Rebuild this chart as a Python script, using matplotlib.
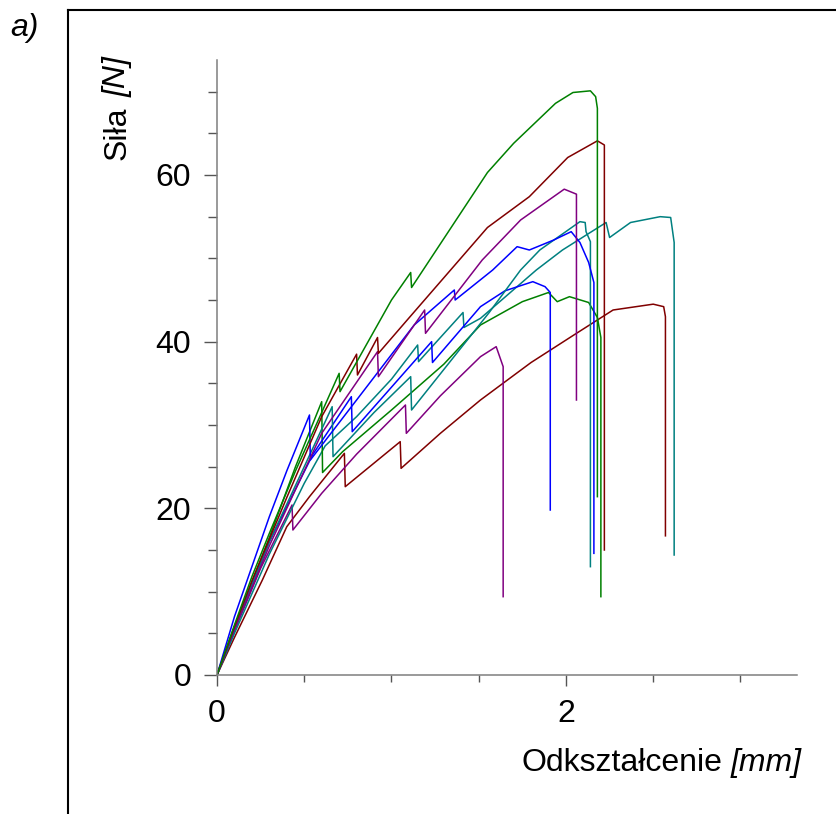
import matplotlib
matplotlib.use("Agg")
import matplotlib.pyplot as plt
from matplotlib.lines import Line2D
from matplotlib.ticker import MultipleLocator

plt.rcParams['font.family'] = ['Liberation Sans', 'DejaVu Sans']

# displacement [mm] / force [N], one pair per specimen
g1_x = [0, 0.1, 0.2, 0.3, 0.45, 0.6, 0.70, 0.705, 1.0, 1.11, 1.115, 1.55, 1.70, 1.94, 2.04, 2.14, 2.17, 2.18, 2.18]
g1_y = [0, 6, 11.8, 17, 24.5, 31.5, 36.2, 34.0, 45.0, 48.3, 46.5, 60.3, 63.8, 68.6, 69.9, 70.1, 69.4, 68.0, 21.4]

g2_x = [0, 0.1, 0.3, 0.45, 0.60, 0.605, 0.72, 1.0, 1.3, 1.51, 1.75, 1.90, 1.95, 2.02, 2.13, 2.18, 2.20, 2.20]
g2_y = [0, 5.8, 16.5, 25, 32.8, 24.3, 26.8, 31.8, 37.3, 42.0, 44.8, 45.9, 44.8, 45.4, 44.7, 42.9, 40.5, 9.4]

r1_x = [0, 0.1, 0.2, 0.4, 0.6, 0.8, 0.805, 0.92, 0.925, 1.09, 1.55, 1.79, 2.01, 2.18, 2.22, 2.22]
r1_y = [0, 5.8, 11.3, 21.3, 31, 38.5, 36.0, 40.5, 38.6, 42.6, 53.7, 57.4, 62.1, 64.1, 63.6, 15.0]

r2_x = [0, 0.1, 0.26, 0.40, 0.53, 0.73, 0.735, 1.05, 1.055, 1.28, 1.51, 1.8, 2.06, 2.27, 2.5, 2.56, 2.57, 2.57]
r2_y = [0, 4.5, 11.4, 17.8, 21.4, 26.6, 22.6, 28.0, 24.8, 29.0, 33.0, 37.5, 41.0, 43.8, 44.5, 44.2, 43.0, 16.7]

p1_x = [0, 0.1, 0.3, 0.6, 0.92, 0.925, 1.19, 1.195, 1.52, 1.74, 1.99, 2.06, 2.06]
p1_y = [0, 5.5, 15.5, 29, 38.8, 35.8, 43.8, 41.0, 49.8, 54.6, 58.3, 57.7, 33.0]

p2_x = [0, 0.1, 0.25, 0.43, 0.435, 0.6, 0.8, 1.08, 1.085, 1.28, 1.51, 1.60, 1.63, 1.64, 1.64]
p2_y = [0, 5.3, 12.8, 20.4, 17.4, 21.8, 26.5, 32.4, 29.0, 33.5, 38.2, 39.4, 37.6, 37.0, 9.4]

b1_x = [0, 0.1, 0.3, 0.55, 0.77, 0.775, 1.23, 1.235, 1.51, 1.65, 1.81, 1.88, 1.91, 1.91]
b1_y = [0, 5.5, 16, 26.5, 33.4, 29.2, 40.0, 37.5, 44.2, 46.1, 47.2, 46.6, 45.9, 19.8]

b2_x = [0, 0.1, 0.2, 0.3, 0.4, 0.53, 0.535, 0.8, 1.13, 1.36, 1.365, 1.58, 1.72, 1.79, 1.93, 2.03, 2.08, 2.13, 2.16, 2.16]
b2_y = [0, 7, 13, 19, 24.5, 31.2, 25.8, 33.0, 42.0, 46.2, 45.0, 48.6, 51.4, 51.0, 52.2, 53.2, 51.9, 49.5, 47.1, 14.6]

t1_x = [0, 0.1, 0.3, 0.5, 0.66, 0.665, 0.9, 1.11, 1.115, 1.56, 1.74, 1.85, 2.08, 2.11, 2.115, 2.14, 2.14]
t1_y = [0, 5.5, 16, 25, 32.2, 26.2, 31.5, 35.8, 31.8, 43.5, 48.6, 51.0, 54.4, 54.3, 53.2, 52.0, 13.0]

t2_x = [0, 0.1, 0.3, 0.5, 0.62, 0.8, 1.0, 1.15, 1.155, 1.41, 1.415, 1.51, 1.83, 1.98, 2.23, 2.25, 2.37, 2.54, 2.60, 2.62, 2.62]
t2_y = [0, 5, 14.5, 23, 27.5, 31, 35.5, 39.6, 37.6, 43.5, 41.7, 42.8, 48.6, 51.0, 54.3, 52.5, 54.3, 55.0, 54.9, 51.9, 14.4]

green = '#008000'
darkred = '#800000'
purple = '#800080'
blue = '#0000ff'
teal = '#008080'

fig = plt.figure(figsize=(8.36, 8.14), dpi=100)
ax = fig.add_axes([217 / 836, 1 - 675 / 814, 580 / 836, 615 / 814])

ax.plot(r2_x, r2_y, color=darkred, lw=1.1)
ax.plot(p2_x, p2_y, color=purple, lw=1.1)
ax.plot(t2_x, t2_y, color=teal, lw=1.1)
ax.plot(g2_x, g2_y, color=green, lw=1.1)
ax.plot(b1_x, b1_y, color=blue, lw=1.1)
ax.plot(t1_x, t1_y, color=teal, lw=1.1)
ax.plot(b2_x, b2_y, color=blue, lw=1.1)
ax.plot(p1_x, p1_y, color=purple, lw=1.1)
ax.plot(r1_x, r1_y, color=darkred, lw=1.1)
ax.plot(g1_x, g1_y, color=green, lw=1.1)

ax.set_xlim(0, 3.324)
ax.set_ylim(0, 73.8)
ax.xaxis.set_major_locator(MultipleLocator(2))
ax.xaxis.set_minor_locator(MultipleLocator(0.5))
ax.yaxis.set_major_locator(MultipleLocator(20))
ax.yaxis.set_minor_locator(MultipleLocator(5))

for s in ['top', 'right']:
    ax.spines[s].set_visible(False)
for s in ['left', 'bottom']:
    ax.spines[s].set_color('#7f7f7f')
    ax.spines[s].set_linewidth(1.1)

ax.tick_params(which='both', direction='out', color='#555555', width=1.0, labelsize=23)
ax.tick_params(axis='y', which='major', length=9.5, pad=9)
ax.tick_params(axis='y', which='minor', length=6.5)
ax.tick_params(axis='x', which='major', length=8, pad=9)
ax.tick_params(axis='x', which='minor', length=5)

# frame of the panel and its caption
fig.add_artist(Line2D([68 / 836, 68 / 836], [0, 1 - 10 / 814], color='black', lw=1.5))
fig.add_artist(Line2D([68 / 836, 1], [1 - 10 / 814, 1 - 10 / 814], color='black', lw=1.5))
fig.text(10 / 836, 1 - 36 / 814, 'a)', fontsize=23, style='italic', ha='left', va='baseline')

# axis titles: name upright, unit italic
fig.text(118 / 836, 1 - 133 / 814, 'Siła', fontsize=23, rotation=90, ha='center', va='center')
fig.text(118 / 836, 1 - 77 / 814, '[N]', fontsize=23, rotation=90, style='italic',
         ha='center', va='center')
fig.text(722 / 836, 1 - 763 / 814, 'Odkształcenie', fontsize=23, ha='right', va='center')
fig.text(802 / 836, 1 - 763 / 814, '[mm]', fontsize=23, style='italic', ha='right', va='center')

fig.savefig('out.png', dpi=100)
